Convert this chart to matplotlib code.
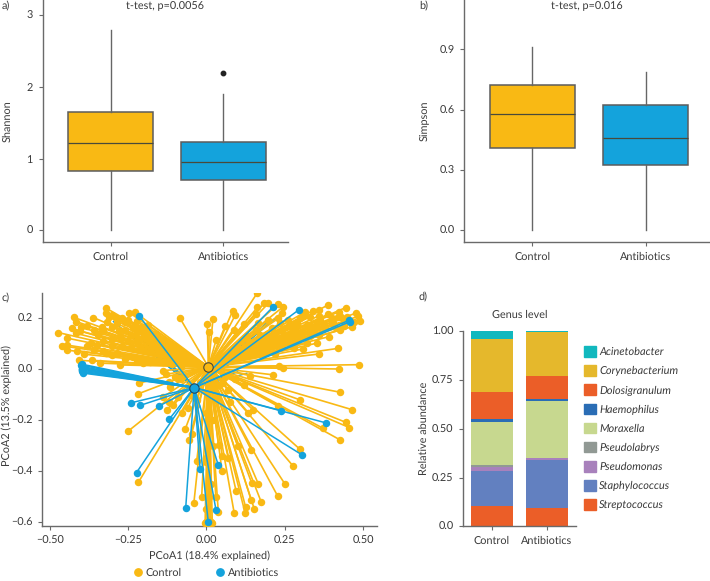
#!/usr/bin/env python3
"""Alpha diversity boxplots, PCoA spider plot and genus level composition."""

import matplotlib
matplotlib.use("Agg")
import matplotlib.pyplot as plt
from matplotlib.patches import Patch
from matplotlib.lines import Line2D

plt.rcParams["font.family"] = ["Lato", "DejaVu Sans"]
plt.rcParams["text.hinting"] = "none"

W, H = 710, 581
ORANGE = "#F9B914"
BLUE = "#14A3DC"
TEXT = "#3a3a3a"
AXIS = "#6a6a6a"
FS = 7.8

groups = ["Control", "Antibiotics"]

# five number summaries
shannon_low = [0.0, 0.0]
shannon_q1 = [0.822, 0.697]
shannon_med = [1.212, 0.948]
shannon_q3 = [1.644, 1.231]
shannon_high = [2.79, 1.904]
shannon_fliers = [[], [2.197]]

simpson_low = [0.0, 0.0]
simpson_q1 = [0.409, 0.323]
simpson_med = [0.577, 0.459]
simpson_q3 = [0.724, 0.622]
simpson_high = [0.91, 0.787]

# PCoA scores
outer_x = [
    -0.473, -0.424, -0.415, -0.361, -0.319, -0.322, -0.302, -0.246, -0.228, -0.444,
    -0.462, -0.446, -0.445, -0.414, -0.416, -0.404, -0.390, -0.407, -0.366, -0.350,
    -0.345, -0.334, -0.318, -0.286, -0.260, -0.233, -0.185, -0.320, -0.276, -0.223,
    -0.190, -0.286, -0.233, -0.169, -0.340, -0.276, -0.201, -0.137, -0.084, 0.003,
    0.021, 0.009, 0.031, 0.060, 0.084, 0.092, 0.089, 0.120, 0.163, 0.163,
    0.185, 0.198, 0.228, 0.246, 0.158, 0.166, 0.198, 0.241, 0.235, 0.171,
    0.150, 0.315, 0.339, 0.361, 0.387, 0.445, 0.424, 0.390, 0.477, 0.483,
    0.490, 0.466, 0.427, 0.363, 0.310, 0.278, 0.342, 0.392, 0.321, 0.352,
    0.281, 0.421, 0.361, 0.235, 0.486, 0.425, 0.244, 0.233, 0.214, 0.140,
    0.427, 0.299, 0.464, 0.445, 0.457, 0.372, 0.427, 0.299, 0.276, 0.252,
    0.228, 0.175, 0.143, 0.153, 0.125, 0.124, 0.089, 0.095, 0.145, 0.166,
    0.143, 0.051, 0.039, 0.038, -0.015, -0.040, -0.004, 0.019, -0.031, -0.002,
    -0.047, -0.055, -0.067, -0.249, -0.217, -0.127, -0.079, -0.060, -0.105, -0.219,
    -0.215, -0.116, -0.095, 0.054, 0.076, 0.134, 0.150, 0.001, 0.230, 0.406,
    0.439, 0.375, 0.330, 0.290, 0.260, 0.215, 0.130, 0.420, 0.450, -0.280,
    -0.300, -0.250, -0.210, -0.370, -0.160,
]
outer_y = [
    0.144, 0.204, 0.187, 0.203, 0.239, 0.220, 0.213, 0.222, 0.224, 0.122,
    0.092, 0.095, 0.075, 0.073, 0.141, 0.150, 0.059, 0.035, 0.035, 0.095,
    0.135, 0.167, 0.187, 0.180, 0.187, 0.161, 0.174, 0.065, 0.128, 0.115,
    0.128, 0.063, 0.050, 0.089, 0.024, 0.017, 0.024, -0.005, 0.200, 0.176,
    0.196, 0.146, 0.114, 0.170, 0.229, 0.212, 0.154, 0.178, 0.300, 0.243,
    0.259, 0.259, 0.255, 0.246, 0.216, 0.180, 0.193, 0.220, 0.180, 0.135,
    0.102, 0.224, 0.229, 0.233, 0.251, 0.242, 0.226, 0.216, 0.220, 0.207,
    0.191, 0.167, 0.154, 0.193, 0.207, 0.154, 0.154, 0.128, 0.102, 0.102,
    0.082, 0.082, 0.060, 0.095, 0.018, 0.001, 0.004, 0.013, -0.022, -0.025,
    -0.090, -0.120, -0.158, -0.208, -0.229, -0.231, -0.277, -0.314, -0.378, -0.452,
    -0.498, -0.520, -0.512, -0.548, -0.539, -0.565, -0.565, -0.478, -0.447, -0.450,
    -0.315, -0.342, -0.299, -0.558, -0.501, -0.525, -0.604, -0.604, -0.361, -0.362,
    -0.254, -0.276, -0.233, -0.242, -0.443, -0.159, -0.173, -0.153, -0.140, -0.097,
    -0.054, -0.068, -0.035, -0.055, -0.127, -0.170, -0.160, -0.173, -0.146, 0.180,
    0.187, 0.170, 0.170, 0.175, 0.130, 0.140, 0.120, 0.205, 0.205, 0.150,
    0.120, 0.110, 0.165, 0.105, 0.140,
]

# inner points of the upper left fan
left_x = [
    -0.43, -0.40, -0.38, -0.36, -0.33, -0.31, -0.29, -0.27, -0.25, -0.22, -0.20,
    -0.30, -0.28, -0.26, -0.24, -0.22, -0.20, -0.18, -0.16, -0.14, -0.12, -0.33,
    -0.30, -0.27, -0.24, -0.21, -0.18, -0.15, -0.12, -0.10, -0.38, -0.36, -0.33,
    -0.30, -0.26, -0.22, -0.18, -0.14, -0.11, -0.08, -0.10, -0.13, -0.08, -0.12,
]
left_y = [
    0.16, 0.165, 0.17, 0.155, 0.15, 0.205, 0.20, 0.20, 0.195, 0.19, 0.165,
    0.165, 0.15, 0.155, 0.135, 0.145, 0.13, 0.14, 0.12, 0.115, 0.10, 0.11,
    0.09, 0.09, 0.085, 0.08, 0.075, 0.07, 0.065, 0.05, 0.09, 0.075, 0.07,
    0.055, 0.04, 0.035, 0.03, 0.03, 0.02, 0.01, -0.03, -0.02, -0.04, -0.05,
]

# inner points of the upper right fan
right_x = [
    0.30, 0.33, 0.36, 0.40, 0.43, 0.45, 0.47, 0.44, 0.41, 0.38, 0.35, 0.32,
    0.29, 0.26, 0.23, 0.27, 0.24, 0.21, 0.30, 0.33, 0.36, 0.26, 0.23, 0.20,
    0.18, 0.16, 0.13, 0.11, 0.10, 0.14, 0.19, 0.22, 0.28, 0.31,
]
right_y = [
    0.20, 0.205, 0.21, 0.20, 0.205, 0.19, 0.185, 0.17, 0.165, 0.16, 0.175, 0.175,
    0.185, 0.195, 0.20, 0.165, 0.155, 0.16, 0.14, 0.13, 0.135, 0.115, 0.12, 0.125,
    0.105, 0.155, 0.13, 0.11, 0.085, 0.075, 0.07, 0.06, 0.10, 0.08,
]

# bundle running to the bottom and the cluster around the antibiotics centre
lower_x = [
    0.0, 0.008, 0.015, 0.03, 0.05, 0.07, 0.10, -0.05, -0.03, 0.0, 0.02,
    0.04, 0.03, -0.02, 0.07, -0.09, -0.14, -0.12, 0.09, 0.12, 0.06,
    0.005, 0.012, 0.0, 0.01, 0.015, 0.0, 0.02, 0.02, 0.0,
]
lower_y = [
    -0.60, -0.59, -0.60, -0.50, -0.40, -0.35, -0.30, -0.10, -0.12, -0.09, -0.08,
    -0.06, -0.12, -0.05, -0.08, -0.11, -0.11, -0.13, -0.04, -0.06, -0.03,
    -0.61, -0.605, -0.55, -0.50, -0.45, -0.35, -0.30, -0.20, -0.17,
]

control_x = outer_x + left_x + right_x + lower_x
control_y = outer_y + left_y + right_y + lower_y

# the antibiotics segments that orange segments run over
antibiotics_back_x = [-0.297, -0.25, -0.20, -0.15, 0.20, 0.23, 0.16, 0.129, 0.10, 0.06, -0.12, -0.02]
antibiotics_back_y = [0.187, 0.14, 0.11, 0.06, 0.19, 0.21, 0.09, -0.016, -0.01, -0.02, 0.03, -0.15]

antibiotics_x = [
    -0.398, -0.399, -0.398, -0.397, -0.397, -0.397, -0.396, -0.396, -0.395, -0.395,
    -0.215, 0.214, 0.295, 0.457, 0.459, -0.242, -0.212, -0.152, -0.118, -0.223,
    -0.066, -0.020, 0.038, 0.031, 0.006, 0.239, 0.381, 0.307,
]
antibiotics_y = [
    0.020, 0.016, 0.011, 0.007, 0.003, 0.0, -0.004, -0.008, -0.012, -0.015,
    0.210, 0.246, 0.233, 0.193, 0.187, -0.132, -0.142, -0.145, -0.195, -0.405,
    -0.544, -0.392, -0.376, -0.554, -0.600, -0.162, -0.210, -0.337,
]

control_centre = (0.0064, 0.009)
antibiotics_centre = (-0.039, -0.072)

pcoa_xticks = [-0.50, -0.25, 0.00, 0.25, 0.50]
pcoa_yticks = [0.2, 0.0, -0.2, -0.4, -0.6]

# genus composition, bottom of the stack first
genera = ["Streptococcus", "Staphylococcus", "Pseudomonas", "Pseudolabrys", "Moraxella",
          "Haemophilus", "Dolosigranulum", "Corynebacterium", "Acinetobacter"]
genus_control = [0.103, 0.181, 0.022, 0.007, 0.222, 0.014, 0.142, 0.271, 0.038]
genus_antibiotics = [0.092, 0.248, 0.010, 0.001, 0.294, 0.006, 0.118, 0.226, 0.012]
genus_colors = ["#EB5E28", "#6280C0", "#A881BC", "#919994", "#C7D88F",
                "#2A6DB5", "#EB5E28", "#E5B82C", "#11B8BE"]


def make_axes(fig, left, top, right, bottom):
    ax = fig.add_axes([left / W, 1 - bottom / H, (right - left) / W, (bottom - top) / H])
    for side in ("top", "right"):
        ax.spines[side].set_visible(False)
    for side in ("left", "bottom"):
        ax.spines[side].set_color(AXIS)
        ax.spines[side].set_linewidth(1.0)
    ax.tick_params(colors=AXIS, labelcolor=TEXT, labelsize=FS, length=3, width=0.8, pad=4)
    return ax


def place_ylabel(ax, text, x_px, y_px):
    # label position given in figure pixels from the top left, x is the label's right edge
    ax.set_ylabel(text, fontsize=FS, color=TEXT)
    ax.yaxis.set_label_coords(x_px / W, 1 - y_px / H, transform=ax.figure.transFigure)


def draw_box(ax, low, q1, med, q3, high, fliers):
    stats = []
    for i in range(2):
        stats.append({"whislo": low[i], "q1": q1[i], "med": med[i], "q3": q3[i],
                      "whishi": high[i], "fliers": fliers[i]})
    parts = ax.bxp(stats, positions=[0, 1], widths=0.755, patch_artist=True, showcaps=False,
                   medianprops=dict(color="#4a4a3a", linewidth=0.9),
                   whiskerprops=dict(color="#666666", linewidth=1.0),
                   boxprops=dict(edgecolor="#5c5c5c", linewidth=1.1),
                   flierprops=dict(marker="o", markersize=3.2, markerfacecolor="#222222",
                                   markeredgecolor="#222222"))
    for patch, color in zip(parts["boxes"], [ORANGE, BLUE]):
        patch.set_facecolor(color)
    ax.set_xticks([0, 1], groups)


fig = plt.figure(figsize=(W / 100, H / 100), dpi=100)

# a) Shannon
ax_a = make_axes(fig, 42.5, 0, 288, 241.7)
draw_box(ax_a, shannon_low, shannon_q1, shannon_med, shannon_q3, shannon_high, shannon_fliers)
ax_a.set_xlim(-0.606, 1.575)
ax_a.set_ylim(-0.159, 3.21)
ax_a.set_yticks([0, 1, 2, 3])
place_ylabel(ax_a, "Shannon", 12, 121)
ax_a.text(0.5, 0.975, "t-test, p=0.0056", transform=ax_a.transAxes, ha="center", va="center",
          fontsize=FS, color=TEXT)

# b) Simpson
ax_b = make_axes(fig, 464.3, 0, 710, 241.7)
draw_box(ax_b, simpson_low, simpson_q1, simpson_med, simpson_q3, simpson_high, [[], []])
ax_b.set_xlim(-0.602, 1.57)
ax_b.set_ylim(-0.057, 1.146)
ax_b.set_yticks([0.0, 0.3, 0.6, 0.9], ["0.0", "0.3", "0.6", "0.9"])
place_ylabel(ax_b, "Simpson", 429, 121)
ax_b.text(0.5, 0.975, "t-test, p=0.016", transform=ax_b.transAxes, ha="center", va="center",
          fontsize=FS, color=TEXT)

# c) PCoA
ax_c = make_axes(fig, 42.3, 293.3, 376.7, 526.3)
for x, y in zip(antibiotics_back_x, antibiotics_back_y):
    ax_c.plot([antibiotics_centre[0], x], [antibiotics_centre[1], y], color=BLUE, lw=1.0, zorder=2)
for x, y in zip(control_x, control_y):
    ax_c.plot([control_centre[0], x], [control_centre[1], y], color=ORANGE, lw=1.2, zorder=3)
ax_c.scatter(control_x, control_y, s=29, color=ORANGE, linewidths=0, zorder=3)
for x, y in zip(antibiotics_x, antibiotics_y):
    ax_c.plot([antibiotics_centre[0], x], [antibiotics_centre[1], y], color=BLUE, lw=1.1, zorder=4)
ax_c.scatter(antibiotics_x, antibiotics_y, s=29, color=BLUE, linewidths=0, zorder=4)
ax_c.scatter(*control_centre, s=46, facecolors=ORANGE, edgecolors="#4a4a3a", linewidths=0.8, zorder=5)
ax_c.scatter(*antibiotics_centre, s=46, facecolors=BLUE, edgecolors="#23475a", linewidths=0.8, zorder=5)
ax_c.set_xlim(-0.524, 0.544)
ax_c.set_ylim(-0.616, 0.298)
ax_c.set_xticks(pcoa_xticks, ["\u22120.50", "\u22120.25", "0.00", "0.25", "0.50"])
ax_c.set_yticks(pcoa_yticks, ["0.2", "0.0", "\u22120.2", "\u22120.4", "\u22120.6"])
ax_c.set_xlabel("PCoA1 (18.4% explained)", fontsize=FS, color=TEXT, labelpad=3)
place_ylabel(ax_c, "PCoA2 (13.5% explained)", 12, 405.7)
handles = [Line2D([], [], ls="", marker="o", ms=5.3, color=ORANGE),
           Line2D([], [], ls="", marker="o", ms=5.3, color=BLUE)]
fig.legend(handles, groups, loc="center left", bbox_to_anchor=(132.5 / W, 1 - 573 / H), ncol=2,
           frameon=False, fontsize=FS, labelcolor=TEXT, handlelength=1.0, handletextpad=0.23,
           columnspacing=3.0, borderpad=0, borderaxespad=0)

# d) Genus composition
ax_d = make_axes(fig, 463.3, 331.3, 575.7, 526.3)
bottom = [0.0, 0.0]
for i, genus in enumerate(genera):
    values = [genus_control[i], genus_antibiotics[i]]
    ax_d.bar([0, 1], values, bottom=bottom, width=0.76, color=genus_colors[i], linewidth=0)
    bottom = [bottom[0] + values[0], bottom[1] + values[1]]
ax_d.set_xlim(-0.523, 1.526)
ax_d.set_ylim(0, 1)
ax_d.set_xticks([0, 1], groups)
ax_d.set_yticks([0, 0.25, 0.5, 0.75, 1.0], ["0.0", "0.25", "0.50", "0.75", "1.00"])
place_ylabel(ax_d, "Relative abundance", 429, 428.3)
ax_d.text(0.5, 1.087, "Genus level", transform=ax_d.transAxes, ha="center", va="center",
          fontsize=FS, color=TEXT)
legend_handles = [Patch(color=c, label=g) for g, c in zip(genera[::-1], genus_colors[::-1])]
ax_d.legend(handles=legend_handles, loc="upper left", bbox_to_anchor=(584 / W, 1 - 346.3 / H),
            bbox_transform=fig.transFigure, frameon=False, borderpad=0, borderaxespad=0,
            handlelength=1.12, handleheight=1.12, handletextpad=0.27, labelspacing=0.74,
            labelcolor=TEXT, prop=dict(family="Lato", style="italic", size=7.9))

# panel letters
for label, x, y in [("a)", 2, 6), ("b)", 419, 6), ("c)", 2, 298), ("d)", 419, 297)]:
    fig.text(x / W, 1 - y / H, label, fontsize=FS, color=TEXT, va="center")

fig.savefig("out.png", dpi=100)
plt.close(fig)
